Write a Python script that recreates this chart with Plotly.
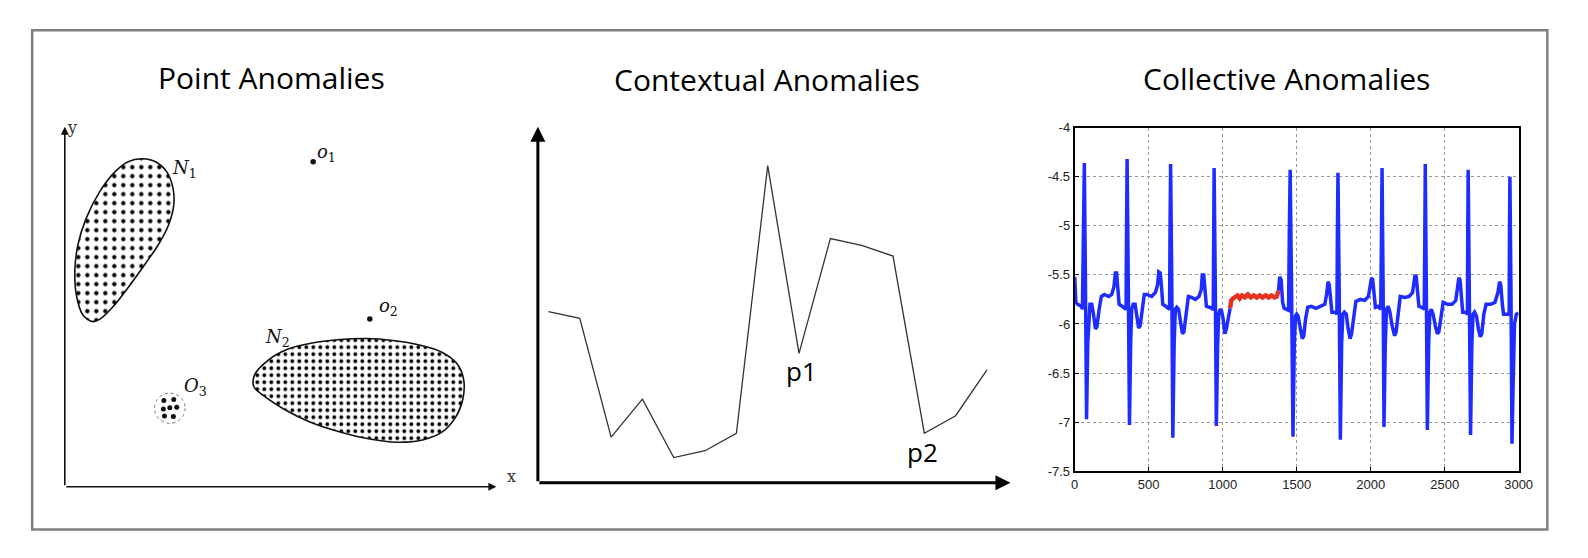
import plotly.graph_objects as go

W, H = 1588, 558

# ---------------- Panel 1: point anomalies (units: px-like chart units) ----------------
n1_x = [78.5, 93.5, 103.5, 109.5, 110.2, 105.2, 95.2, 81.8, 65.2, 48.5, 35.2, 28.5, 18.5, 11.8, 10.2, 13.5, 21.8, 35.2, 50.2, 63.5, 78.5]
n1_y = [337, 333, 323, 306.3, 289.7, 269.7, 249.7, 229.7, 206.3, 184.7, 172, 169.7, 176.3, 196.3, 223, 249.7, 276.3, 303, 323, 333.7, 337]
n2_x = [191.8, 205.2, 225.2, 251.8, 278.5, 305.2, 331.8, 358.5, 381.8, 396.8, 403.5, 402.5, 395.2, 381.8, 361.8, 335.2, 308.5, 278.5, 248.5, 221.8, 201.8, 191.2, 191.8]
n2_y = [114.7, 129.7, 141.3, 148, 151.3, 152.3, 150.3, 145.7, 138, 126.3, 109.7, 89.7, 71.3, 56.3, 48, 45.7, 49, 56.3, 66.3, 79.7, 93, 103, 114.7]
o3_center = (106.2, 80.7)
o3_radius = 15.5
o3_dots_x = [100.2, 110.2, 99.7, 106.2, 113.2, 100.8, 109.8]
o3_dots_y = [88.7, 89.7, 80.0, 81.1, 81.7, 72.7, 72.1]
outlier_x = [251.2, 308.5]
outlier_y = [334, 172.3]
p1_labels = ["<i>N</i><sub>1</sub>", "<i>o</i><sub>1</sub>", "<i>o</i><sub>2</sub>", "<i>N</i><sub>2</sub>", "<i>O</i><sub>3</sub>"]
p1_label_x = [121, 265, 327, 215, 132]
p1_label_y = [327, 343, 185, 153, 103]

# ---------------- Panel 2: contextual anomalies ----------------
ctx_x = list(range(15))
ctx_y = [176, 169, 47, 86, 26, 33, 51, 326, 133, 251, 244, 233, 51, 69, 116]
ctx_labels = ["p1", "p2"]
ctx_label_x = [8.09, 11.94]
ctx_label_y = [115, 32]

# ---------------- Panel 3: collective anomalies (ECG) ----------------
ecg_a_x = [0, 8, 20, 45, 52, 60, 65, 72, 80, 88, 95, 103, 115, 125, 140, 150, 165, 180, 200, 230, 250, 265, 275, 283, 292, 300, 320, 340,
           347, 350, 354, 362, 370, 378, 385, 395, 408, 418, 432, 442, 455, 470, 490, 520, 545, 560, 568, 578, 588, 595, 615, 636,
           641, 644, 648, 656, 663, 672, 680, 690, 702, 712, 728, 738, 752, 768, 790, 815, 840, 855, 862, 872, 882, 890, 910, 930,
           936, 939, 942, 950, 957, 966, 973, 982, 993, 1003, 1015, 1025, 1035, 1045, 1050]
ecg_a_y = [-5.52, -5.78, -5.8, -5.82, -5.85, -5.1, -4.36, -5.5, -6.97, -6.2, -5.9, -5.8, -5.8, -5.88, -6.05, -6.03, -5.85, -5.72, -5.7, -5.72, -5.7, -5.62, -5.48, -5.48, -5.65, -5.8, -5.82, -5.84,
           -5.85, -5.1, -4.32, -5.6, -7.03, -6.2, -5.85, -5.8, -5.8, -5.9, -6.04, -6.02, -5.85, -5.7, -5.7, -5.72, -5.68, -5.6, -5.47, -5.48, -5.65, -5.8, -5.82, -5.84,
           -5.85, -5.05, -4.37, -5.6, -7.16, -6.2, -5.85, -5.83, -5.85, -5.95, -6.1, -6.08, -5.88, -5.72, -5.73, -5.75, -5.72, -5.65, -5.5, -5.5, -5.68, -5.82, -5.83, -5.84,
           -5.86, -4.95, -4.41, -5.6, -7.04, -6.2, -5.9, -5.85, -5.87, -5.95, -6.1, -6.05, -5.95, -5.9, -5.84]
ecg_red_x = [1050, 1058, 1070, 1085, 1100, 1115, 1130, 1150, 1170, 1190, 1210, 1230, 1250, 1270, 1290, 1310, 1330, 1350, 1365, 1378]
ecg_red_y = [-5.84, -5.76, -5.74, -5.73, -5.71, -5.74, -5.71, -5.73, -5.7, -5.73, -5.71, -5.73, -5.71, -5.73, -5.71, -5.73, -5.71, -5.73, -5.72, -5.66]
ecg_b_x = [1378, 1385, 1395, 1405, 1415, 1430, 1445, 1450, 1456, 1465, 1475, 1484, 1492, 1500, 1510, 1525, 1538, 1548, 1560, 1575, 1600, 1630, 1660, 1690, 1702, 1712, 1720, 1730, 1738, 1760, 1772,
           1775, 1779, 1787, 1795, 1804, 1812, 1822, 1835, 1848, 1861, 1871, 1885, 1900, 1930, 1960, 1985, 1998, 2006, 2014, 2024, 2032, 2050, 2068,
           2073, 2077, 2084, 2090, 2099, 2107, 2118, 2130, 2145, 2162, 2172, 2185, 2200, 2230, 2260, 2283, 2292, 2300, 2308, 2318, 2326, 2345, 2362,
           2366, 2369, 2376, 2383, 2392, 2400, 2410, 2422, 2437, 2451, 2461, 2475, 2490, 2520, 2550, 2575, 2588, 2596, 2604, 2614, 2622, 2640, 2654,
           2656, 2659, 2666, 2675, 2684, 2692, 2702, 2715, 2728, 2741, 2751, 2765, 2780, 2810, 2840, 2860, 2871, 2879, 2890, 2898, 2920, 2936,
           2938, 2941, 2948, 2955, 2963, 2972, 2985, 3000]
ecg_b_y = [-5.66, -5.52, -5.55, -5.78, -5.84, -5.85, -5.86, -5.1, -4.43, -5.6, -7.15, -6.2, -5.92, -5.9, -5.92, -6.05, -6.15, -6.12, -5.95, -5.83, -5.82, -5.84, -5.82, -5.8, -5.7, -5.57, -5.6, -5.78, -5.88, -5.88, -5.9,
           -5.1, -4.46, -5.6, -7.18, -6.2, -5.9, -5.88, -5.9, -6.05, -6.15, -6.1, -5.9, -5.77, -5.75, -5.76, -5.72, -5.6, -5.53, -5.55, -5.75, -5.83, -5.82, -5.85,
           -5.1, -4.41, -5.6, -7.05, -6.2, -5.85, -5.82, -5.88, -6.02, -6.12, -6.08, -5.88, -5.72, -5.73, -5.72, -5.68, -5.55, -5.5, -5.52, -5.72, -5.82, -5.83, -5.85,
           -5.1, -4.37, -5.6, -7.08, -6.2, -5.88, -5.85, -5.9, -6.02, -6.1, -6.08, -5.9, -5.78, -5.8, -5.8, -5.76, -5.6, -5.53, -5.55, -5.75, -5.88, -5.88, -5.9,
           -5.1, -4.43, -5.6, -7.13, -6.2, -5.9, -5.88, -5.92, -6.05, -6.13, -6.1, -5.9, -5.8, -5.8, -5.78, -5.68, -5.57, -5.6, -5.8, -5.9, -5.9, -5.9,
           -5.1, -4.5, -5.6, -7.22, -6.6, -6.0, -5.9, -5.89]
x3_ticks = [0, 500, 1000, 1500, 2000, 2500, 3000]
x3_ticktext = ["0", "500", "1000", "1500", "2000", "2500", "3000"]
y3_ticks = [-7.5, -7, -6.5, -6, -5.5, -5, -4.5, -4]
y3_ticktext = ["-7.5", "-7", "-6.5", "-6", "-5.5", "-5", "-4.5", "-4"]

titles = ["Point Anomalies", "Contextual Anomalies", "Collective Anomalies"]


def px_dom_x(a, b):
    return [a / W, b / W]


def px_dom_y(top, bottom):
    return [1 - bottom / H, 1 - top / H]


fig = go.Figure()

# Panel 1 traces
fig.add_trace(go.Scatter(x=n1_x, y=n1_y, mode="lines", line=dict(color="#111", width=1.6, shape="spline", smoothing=1.0),
                         fill="toself", fillcolor="white",
                         fillpattern=dict(shape=".", size=9, solidity=0.18, fgcolor="black", fgopacity=1, fillmode="overlay"),
                         xaxis="x", yaxis="y", hoverinfo="skip"))
fig.add_trace(go.Scatter(x=n2_x, y=n2_y, mode="lines", line=dict(color="#111", width=1.6, shape="spline", smoothing=1.0),
                         fill="toself", fillcolor="white",
                         fillpattern=dict(shape=".", size=7, solidity=0.24, fgcolor="black", fgopacity=1, fillmode="overlay"),
                         xaxis="x", yaxis="y", hoverinfo="skip"))
fig.add_trace(go.Scatter(x=o3_dots_x, y=o3_dots_y, mode="markers", marker=dict(color="#111", size=5),
                         xaxis="x", yaxis="y", hoverinfo="skip"))
fig.add_trace(go.Scatter(x=outlier_x, y=outlier_y, mode="markers", marker=dict(color="#111", size=5.5),
                         xaxis="x", yaxis="y", hoverinfo="skip"))

# Panel 2 trace
fig.add_trace(go.Scatter(x=ctx_x, y=ctx_y, mode="lines", line=dict(color="#333", width=1.3),
                         xaxis="x2", yaxis="y2", hoverinfo="skip"))

# Panel 3 traces
blue = "#1f2cff"
fig.add_trace(go.Scatter(x=ecg_a_x, y=ecg_a_y, mode="lines", line=dict(color=blue, width=3.5),
                         xaxis="x3", yaxis="y3", hoverinfo="skip"))
fig.add_trace(go.Scatter(x=ecg_b_x, y=ecg_b_y, mode="lines", line=dict(color=blue, width=3.5),
                         xaxis="x3", yaxis="y3", hoverinfo="skip"))
fig.add_trace(go.Scatter(x=ecg_red_x, y=ecg_red_y, mode="lines", line=dict(color="#e5331f", width=4.5),
                         xaxis="x3", yaxis="y3", hoverinfo="skip"))

hidden = dict(visible=False, fixedrange=True)

fig.update_layout(
    width=W, height=H, margin=dict(l=0, r=0, t=0, b=0, pad=0), autosize=False,
    paper_bgcolor="white", plot_bgcolor="rgba(0,0,0,0)", showlegend=False,
    xaxis=dict(domain=px_dom_x(61.5, 498), range=[0, 436.5], **hidden),
    yaxis=dict(domain=px_dom_y(123, 493), range=[0, 370], **hidden),
    xaxis2=dict(domain=px_dom_x(540, 1018), range=[-0.338, 14.75], **hidden),
    yaxis2=dict(domain=px_dom_y(123, 489), range=[0, 366], **hidden),
    xaxis3=dict(domain=px_dom_x(1083, 1532), range=[0, 3000], anchor="y3",
                tickvals=x3_ticks, ticktext=x3_ticktext, ticks="inside", ticklen=4, tickcolor="black",
                showline=True, linecolor="black", linewidth=2, mirror=True,
                showgrid=True, gridcolor="#999", griddash="dot", gridwidth=1, zeroline=False,
                tickfont=dict(family="Liberation Sans", size=13, color="#222")),
    yaxis3=dict(domain=px_dom_y(124, 477), range=[-7.5, -4], anchor="x3",
                tickvals=y3_ticks, ticktext=y3_ticktext, ticks="inside", ticklen=4, tickcolor="black",
                showline=True, linecolor="black", linewidth=2, mirror=True,
                showgrid=True, gridcolor="#999", griddash="dot", gridwidth=1, zeroline=False,
                tickfont=dict(family="Liberation Sans", size=13, color="#222")),
)

shapes = [
    # outer frame
    dict(type="rect", xref="paper", yref="paper", x0=28.5 / W, x1=1561 / W, y0=1 - 537 / H, y1=1 - 24 / H,
         line=dict(color="#808080", width=2.5), fillcolor="rgba(0,0,0,0)", layer="below"),
    # O3 dotted circle
    dict(type="circle", xref="x", yref="y",
         x0=o3_center[0] - o3_radius, x1=o3_center[0] + o3_radius,
         y0=o3_center[1] - o3_radius, y1=o3_center[1] + o3_radius,
         line=dict(color="#777", width=1, dash="dot")),
]
fig.update_layout(shapes=shapes)

ann = []
# titles
title_x = [271, 772, 1297]
title_y = [72, 75, 73]
for t, tx, ty in zip(titles, title_x, title_y):
    ann.append(dict(text=t, xref="paper", yref="paper", x=tx / W, y=1 - ty / H, showarrow=False,
                    xanchor="center", yanchor="middle", font=dict(family="Open Sans", size=30, color="black")))

# panel 1 axis arrows
ann.append(dict(xref="x", yref="y", axref="x", ayref="y", x=436.5, y=0, ax=0, ay=0, text="", showarrow=True,
                arrowhead=2, arrowwidth=1.6, arrowsize=1, arrowcolor="#111", standoff=0, startstandoff=0))
ann.append(dict(xref="x", yref="y", axref="x", ayref="y", x=0, y=370, ax=0, ay=0, text="", showarrow=True,
                arrowhead=2, arrowwidth=1.6, arrowsize=1, arrowcolor="#111", standoff=0, startstandoff=0))
ann.append(dict(text="x", xref="paper", yref="paper", x=507 / W, y=1 - 494 / H, showarrow=False,
                font=dict(family="DejaVu Serif", size=16, color="#333")))
ann.append(dict(text="y", xref="paper", yref="paper", x=61.5 / W, y=1 - 112 / H, showarrow=False,
                font=dict(family="DejaVu Serif", size=16, color="#333")))
for t, lx, ly in zip(p1_labels, p1_label_x, p1_label_y):
    ann.append(dict(text=t, xref="x", yref="y", x=lx, y=ly, showarrow=False,
                    font=dict(family="DejaVu Serif", size=18, color="#111")))

# panel 2 axis arrows
ann.append(dict(xref="x2", yref="y2", axref="x2", ayref="y2", x=14.75, y=0, ax=-0.338, ay=0, text="", showarrow=True,
                arrowhead=2, arrowwidth=3, arrowsize=1, arrowcolor="black", standoff=0, startstandoff=0))
ann.append(dict(xref="x2", yref="y2", axref="x2", ayref="y2", x=-0.338, y=366, ax=-0.338, ay=0, text="", showarrow=True,
                arrowhead=2, arrowwidth=3, arrowsize=1, arrowcolor="black", standoff=0, startstandoff=0))
for t, lx, ly in zip(ctx_labels, ctx_label_x, ctx_label_y):
    ann.append(dict(text=t, xref="x2", yref="y2", x=lx, y=ly, showarrow=False,
                    font=dict(family="Open Sans", size=26, color="black")))

fig.update_layout(annotations=ann)

post = (
    "document.body.style.margin='0';document.body.style.padding='0';document.body.style.overflow='hidden';"
)

fig.write_html("out.html",
               config={"displayModeBar": False},
               post_script=post)
